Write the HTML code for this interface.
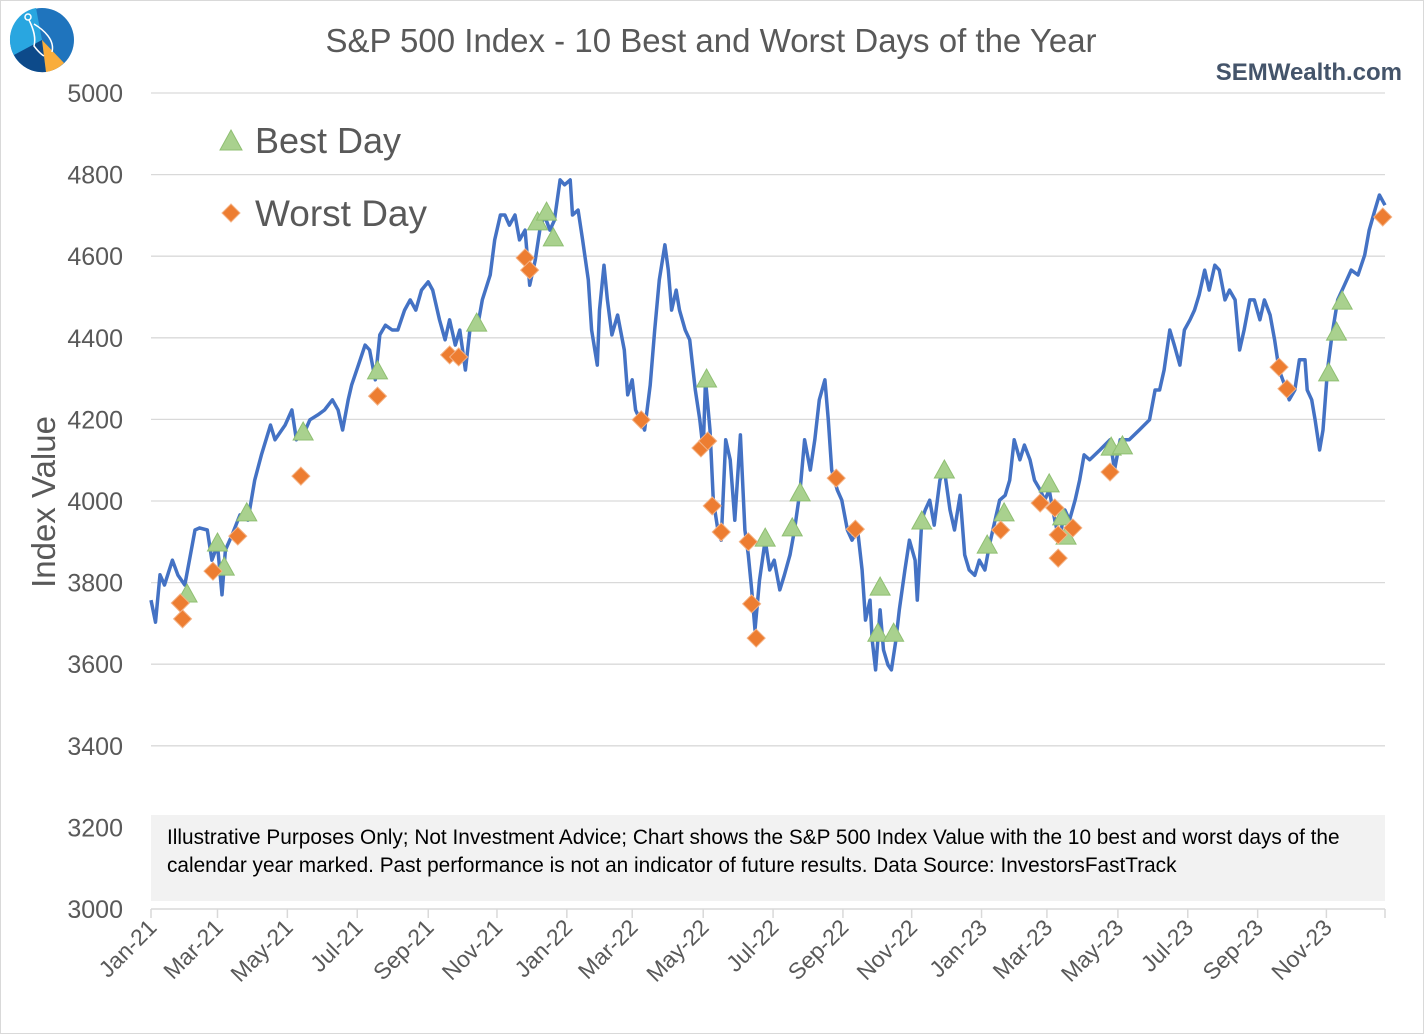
<!DOCTYPE html>
<html><head><meta charset="utf-8"><style>
html,body{margin:0;padding:0;background:#fff;}
svg{display:block;font-family:"Liberation Sans",sans-serif;}
</style></head><body>
<svg id="chart" width="1424" height="1034" viewBox="0 0 1424 1034">
<rect x="0.5" y="0.5" width="1423" height="1033" fill="#fff" stroke="#d9d9d9"/>
<g>
<circle cx="42" cy="40" r="32" fill="#1f74bd"/>
<path d="M42,40 L36,8 A32,32 0 0 0 14,55 Z" fill="#29a6e0"/>
<path d="M42,40 L14,55 A32,32 0 0 0 46,72 Z" fill="#0d4a8a"/>
<path d="M42,40 L46,72 A32,32 0 0 0 64,63 Z" fill="#f9ad3c"/>
<path d="M29,20 C34,30 36,38 34,46 C40,54 44,56 44,56 M34,24 C44,30 55,40 52,52" stroke="#fff" stroke-width="1.5" fill="none"/>
<circle cx="28" cy="17" r="3" stroke="#fff" stroke-width="1.5" fill="none"/>
</g>
<text x="711" y="52" text-anchor="middle" font-size="33" fill="#595959">S&amp;P 500 Index - 10 Best and Worst Days of the Year</text>
<text x="1402" y="80" text-anchor="end" font-size="24" font-weight="bold" fill="#44546a">SEMWealth.com</text>
<g id="grid"></g>
<g id="yticks"></g>
<text transform="translate(55,502) rotate(-90)" text-anchor="middle" font-size="33" fill="#595959">Index Value</text>
<rect x="151" y="815" width="1234" height="86" fill="#f2f2f2"/>
<text x="167" y="844" font-size="20.8" fill="#000">Illustrative Purposes Only; Not Investment Advice; Chart shows the S&amp;P 500 Index Value with the 10 best and worst days of the</text>
<text x="167" y="872" font-size="20.8" fill="#000">calendar year marked.  Past performance is not an indicator of future results. Data Source: InvestorsFastTrack</text>
<g id="xaxis"></g>
<g id="series"></g>
<g>
<polygon points="231,130 242,150 220,150" fill="#a9d18e" stroke="#8fbf72"/>
<text x="255" y="153" font-size="36" fill="#595959">Best Day</text>
<polygon points="231,204 240,213 231,222 222,213" fill="#ed7d31" stroke="#f4b183"/>
<text x="255" y="226" font-size="37" fill="#595959">Worst Day</text>
</g>
</svg>
<script>
const yTicks=[3000,3200,3400,3600,3800,4000,4200,4400,4600,4800,5000];
const xTickLabels=["Jan-21","Mar-21","May-21","Jul-21","Sep-21","Nov-21","Jan-22","Mar-22","May-22","Jul-22","Sep-22","Nov-22","Jan-23","Mar-23","May-23","Jul-23","Sep-23","Nov-23"];
const xTickDays=[0,59,121,183,246,307,369,427,490,552,614,675,737,795,858,920,982,1043];
const lineDays=[0,4,8,12,19,24,30,35,39,43,50,54,59,63,66,72,79,86,92,98,106,110,119,125,129,132,137,141,148,154,161,166,170,175,178,184,190,194,199,203,208,214,219,225,230,235,240,246,250,256,261,265,270,274,279,283,290,294,301,305,310,314,318,323,327,332,336,341,345,349,354,358,363,367,372,374,379,383,388,391,396,398,402,405,409,414,420,423,427,430,434,438,443,447,451,456,459,462,466,469,474,478,483,487,490,492,496,499,503,506,510,514,518,523,527,530,533,536,540,545,549,553,558,562,567,571,576,580,585,589,593,598,601,604,609,613,618,622,627,631,634,638,640,643,647,650,654,657,661,664,669,673,678,680,684,687,691,695,700,704,709,713,718,722,726,731,735,740,744,749,753,758,762,766,771,775,780,784,789,793,797,802,806,811,815,820,824,828,833,842,851,855,860,868,877,886,891,895,899,904,908,913,917,922,926,930,935,939,944,948,953,957,962,966,970,975,979,984,988,993,997,1001,1006,1010,1015,1019,1024,1026,1030,1033,1037,1040,1044,1048,1053,1059,1065,1071,1077,1081,1086,1090,1095];
const lineValues=[3757,3703,3819,3794,3855,3818,3794,3868,3929,3934,3929,3855,3892,3770,3880,3917,3966,3953,4051,4113,4186,4150,4186,4223,4150,4162,4174,4199,4211,4223,4248,4223,4174,4248,4284,4333,4382,4370,4297,4407,4431,4419,4419,4468,4493,4468,4517,4537,4517,4444,4395,4444,4382,4419,4321,4419,4431,4493,4554,4640,4701,4701,4676,4701,4640,4664,4529,4591,4664,4701,4664,4688,4787,4775,4787,4701,4713,4640,4542,4419,4333,4468,4578,4493,4407,4456,4370,4260,4297,4223,4199,4174,4284,4419,4542,4628,4566,4468,4517,4468,4419,4395,4272,4199,4125,4297,4174,4002,3929,3904,4150,4101,3953,4162,3929,3868,3782,3684,3806,3904,3831,3855,3782,3818,3868,3929,4027,4150,4076,4150,4248,4297,4199,4076,4027,4002,3929,3904,3929,3831,3708,3757,3659,3586,3733,3635,3598,3586,3659,3733,3831,3904,3855,3757,3953,3978,4002,3941,4051,4076,3978,3929,4014,3868,3831,3818,3855,3831,3892,3953,4002,4014,4051,4150,4101,4137,4101,4051,4027,4002,4027,3953,3904,3978,3953,4002,4051,4113,4101,4125,4150,4076,4150,4150,4174,4199,4272,4272,4321,4419,4382,4333,4419,4444,4468,4505,4566,4517,4578,4566,4493,4517,4493,4370,4419,4493,4493,4444,4493,4456,4395,4321,4284,4248,4272,4346,4346,4272,4248,4199,4125,4174,4321,4407,4493,4529,4566,4554,4603,4664,4713,4750,4725];
const bestDays=[32,59,65,85,135,201,289,343,351,357,493,545,569,576,647,645,659,684,704,742,757,797,809,812,852,862,1045,1052,1057];
const bestValues=[3772,3897,3838,3971,4169,4319,4436,4684,4708,4645,4299,3909,3934,4020,3789,3676,3676,3951,4076,3892,3971,4042,3961,3914,4132,4135,4314,4414,4490];
const worstDays=[26,28,55,77,133,201,265,273,332,336,435,488,494,498,506,530,533,537,608,625,754,789,802,805,805,818,851,1001,1008,1093];
const worstValues=[3750,3711,3828,3914,4061,4257,4358,4353,4596,4566,4199,4130,4147,3988,3924,3900,3748,3664,4056,3931,3929,3995,3983,3917,3860,3934,4071,4328,4275,4696];

const NS="http://www.w3.org/2000/svg";
const X0=151,X1=1385,Y0=909,Y1=93,DMAX=1095,VMIN=3000,VMAX=5000;
const sx=d=>X0+(d/DMAX)*(X1-X0);
const sy=v=>Y0-(v-VMIN)/(VMAX-VMIN)*(Y0-Y1);
function mk(tag,attrs,parent){const e=document.createElementNS(NS,tag);for(const k in attrs)e.setAttribute(k,attrs[k]);parent.appendChild(e);return e;}
const grid=document.getElementById('grid'),yt=document.getElementById('yticks'),xa=document.getElementById('xaxis'),ser=document.getElementById('series');
yTicks.forEach(v=>{
  if(v>VMIN){const l=mk('line',{x1:X0,x2:X1,y1:sy(v),y2:sy(v),stroke:'#d9d9d9','stroke-width':1.3},grid);
  
  }
  const t=mk('text',{x:123,y:sy(v)+9,'text-anchor':'end','font-size':25,fill:'#595959'},yt);
  t.textContent=v;
  
  
});
const ax=mk('line',{x1:X0,x2:X1,y1:Y0,y2:Y0,stroke:'#d9d9d9','stroke-width':1.5},xa);


xTickDays.concat([DMAX]).forEach(d=>{mk('line',{x1:sx(d),x2:sx(d),y1:Y0,y2:Y0+9,stroke:'#d9d9d9','stroke-width':1.5},xa);});
xTickLabels.forEach((s,i)=>{
  const x=sx(xTickDays[i])+7,y=Y0+20;
  const t=mk('text',{x:x,y:y,'text-anchor':'end','font-size':23,fill:'#595959',transform:`rotate(-45 ${x} ${y})`},xa);
  t.textContent=s;
  
  
});
const pts=lineDays.map((d,i)=>sx(d).toFixed(1)+','+sy(lineValues[i]).toFixed(1)).join(' ');
const pl=mk('polyline',{points:pts,fill:'none',stroke:'#4472c4','stroke-width':3.5,'stroke-linejoin':'round'},ser);


bestDays.forEach((d,i)=>{const x=sx(d),y=sy(bestValues[i]);
  const p=mk('polygon',{points:`${x},${y-10} ${x+10},${y+8} ${x-10},${y+8}`,fill:'#a9d18e',stroke:'#8fbf72'},ser);
  
  });
worstDays.forEach((d,i)=>{const x=sx(d),y=sy(worstValues[i]);
  const p=mk('polygon',{points:`${x},${y-9} ${x+9},${y} ${x},${y+9} ${x-9},${y}`,fill:'#ed7d31',stroke:'#f4b183'},ser);
  
  });
</script>
</body></html>
